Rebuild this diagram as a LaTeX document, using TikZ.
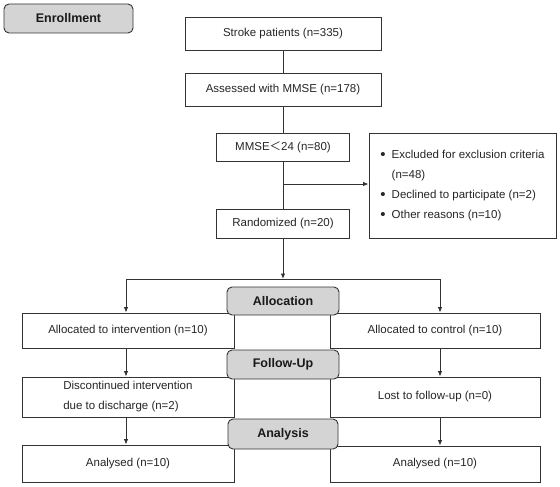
\documentclass[tikz,border=0pt]{standalone}
\usepackage{fontspec}
\setmainfont{Liberation Sans}
\newfontfamily\cjkfont{Noto Sans CJK SC}
\usetikzlibrary{arrows.meta}
\newcommand{\blt}{\raisebox{-1.2pt}{\fontsize{15}{20}\selectfont\textbullet}\hspace{6pt}}

\begin{document}
\begin{tikzpicture}[x=1pt,y=-1pt,
  box/.style={draw=black!80,line width=0.9pt,fill=white,inner sep=0pt,align=center,font=\fontsize{11.5}{14}\selectfont,text=black!85},
  stage/.style={draw=black!80,line width=0.9pt,fill=black!17,rounded corners=5pt,inner sep=0pt,font=\fontsize{12.5}{15}\selectfont\bfseries,text=black!90},
  link/.style={draw=black!80,line width=0.9pt},
  arr/.style={link,-{Latex[length=5.5pt,width=4.5pt]}}]
\useasboundingbox (0,0) rectangle (560,487);
\fill[white] (0,0) rectangle (560,487);

\node[stage,minimum width=129pt,minimum height=29pt] (enroll) at (68.5,18.5) {Enrollment};

% enrollment column
\node[box,minimum width=196pt,minimum height=33pt] (stroke) at (283,33.5) {Stroke patients (n=335)};
\node[box,minimum width=196pt,minimum height=33pt] (assessed) at (283,89.5) {Assessed with MMSE (n=178)};
\node[box,minimum width=133pt,minimum height=28pt] (mmse) at (283,147) {MMSE{\cjkfont ＜}24 (n=80)};
\node[box,minimum width=133pt,minimum height=29pt] (rand) at (283,223.5) {Randomized (n=20)};
\node[box,minimum width=187pt,minimum height=105pt,align=left,font=\fontsize{11.5}{20}\selectfont] (excl) at (462.5,185.5)
  {\blt Excluded for exclusion criteria\\
   \phantom{\blt}(n=48)\\
   \blt Declined to participate (n=2)\\
   \blt Other reasons (n=10)};

\draw[link] (stroke) -- (assessed);
\draw[link] (assessed) -- (mmse);
\draw[link] (mmse) -- (rand);
\coordinate (branch) at (283,184);
\draw[arr] (branch) -- (branch -| excl.west);

% two arms
\node[box,minimum width=212pt,minimum height=35pt] (allocI) at (128,330.5) {Allocated to intervention (n=10)};
\node[box,minimum width=210pt,minimum height=35pt] (allocC) at (435,330.5) {Allocated to control (n=10)};
\node[box,minimum width=212pt,minimum height=40pt,align=left,font=\fontsize{11.5}{20}\selectfont] (discI) at (128,397)
  {Discontinued intervention\\due to discharge (n=2)\hspace*{14pt}};
\node[box,minimum width=210pt,minimum height=40pt] (lost) at (435,397) {Lost to follow-up (n=0)};
\node[box,minimum width=212pt,minimum height=37pt] (anaI) at (128,463.5) {Analysed (n=10)};
\node[box,minimum width=210pt,minimum height=36pt] (anaC) at (435,464) {Analysed (n=10)};

\coordinate (split) at (283,279);
\draw[arr] (rand) -- (split);
\draw[arr] (split) -| ([xshift=-2pt]allocI.north);
\draw[arr] (split) -| ([xshift=5pt]allocC.north);
\draw[arr] ([xshift=-2pt]allocI.south) -- ([xshift=-2pt]discI.north);
\draw[arr] ([xshift=5pt]allocC.south) -- ([xshift=5pt]lost.north);
\draw[arr] ([xshift=-2pt]discI.south) -- ([xshift=-2pt]anaI.north);
\draw[arr] ([xshift=5pt]lost.south) -- ([xshift=5pt]anaC.north);

% stage labels
\node[stage,minimum width=112pt,minimum height=28pt] (alloc) at (283,301) {Allocation};
\node[stage,minimum width=112pt,minimum height=29pt] (follow) at (283,364.5) {Follow-Up};
\node[stage,minimum width=110pt,minimum height=30pt] (analysis) at (283,434) {Analysis};

\end{tikzpicture}
\end{document}
